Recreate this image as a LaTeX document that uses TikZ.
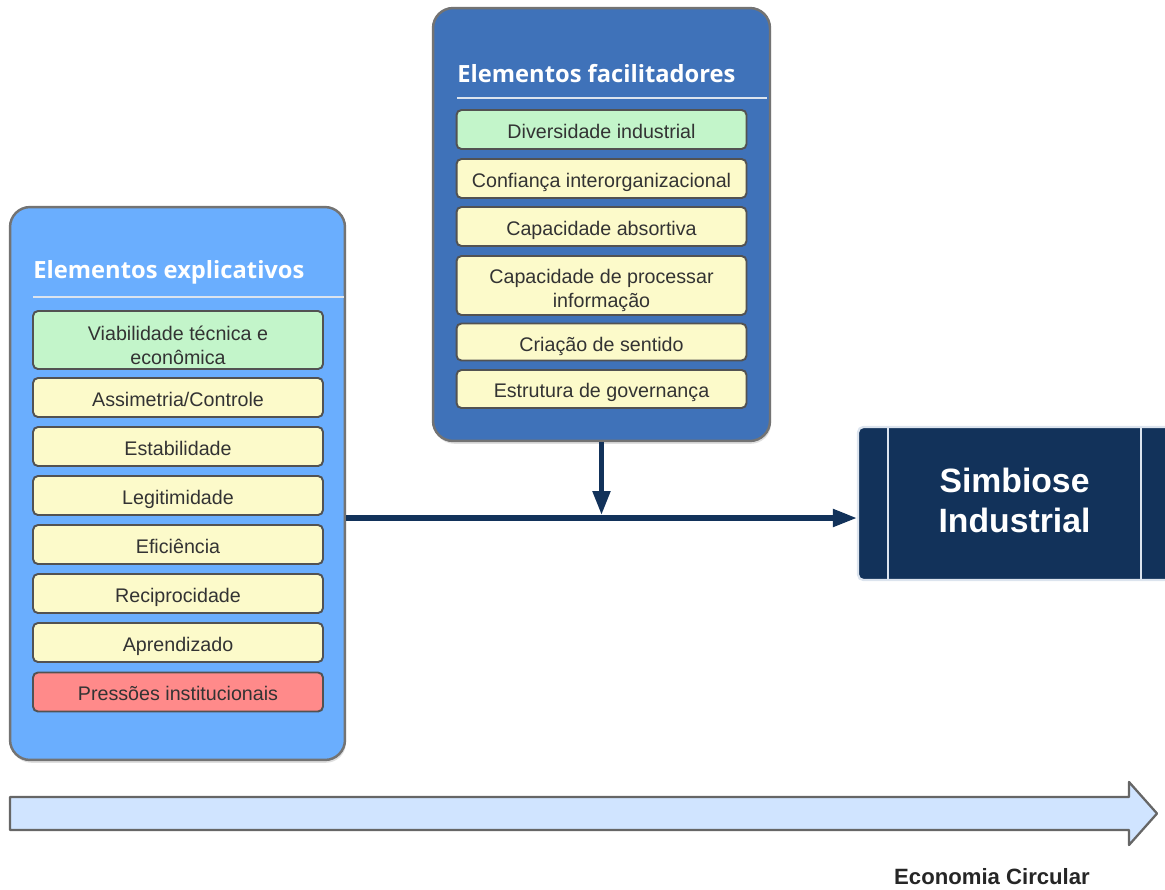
\documentclass[tikz,border=0pt]{standalone}
\usepackage{fontspec}
\setmainfont{Liberation Sans}
\newfontfamily\titlefont{Open Sans}
\usetikzlibrary{positioning}
\usetikzlibrary{calc}
\usetikzlibrary{arrows.meta}
\usetikzlibrary{shadows}

\definecolor{panelA}{HTML}{6AAEFE}
\definecolor{panelB}{HTML}{3F72B9}
\definecolor{itemY}{HTML}{FCFACA}
\definecolor{itemG}{HTML}{C3F5CA}
\definecolor{itemR}{HTML}{FF8A8A}
\definecolor{navy}{HTML}{12325A}
\definecolor{sepcol}{HTML}{DCE4EE}
\definecolor{arrowbg}{HTML}{D0E4FF}

\newcommand{\firstline}{\rule{0pt}{14pt}}

\begin{document}
\begin{tikzpicture}[x=0.02cm,y=-0.02cm,
  panel/.style={draw=black!55,line width=1.4pt,rounded corners=0.4cm,inner sep=0pt,
    drop shadow={opacity=0.25,shadow xshift=0.6pt,shadow yshift=-1.6pt}},
  item/.style={draw=black!68,line width=1.1pt,rounded corners=2.8pt,fill=itemY,text=black!80,
    font=\fontsize{11.2}{13.6}\selectfont,align=center,inner sep=0pt,
    minimum width=5.8cm,minimum height=0.78cm,text height=12.8pt,text depth=3pt},
  twoline/.style={text height=,text depth=},
  title/.style={anchor=west,text=white,inner sep=0pt,font=\titlefont\bfseries\fontsize{13.5}{16}\selectfont},
  sep/.style={draw=sepcol,line width=1.7pt},
  flow/.style={draw=navy,line width=2.9pt,-{Triangle[length=0.48cm,width=0.34cm]}}]
\useasboundingbox (0,0) rectangle (1165,889);

% panels
\node [panel,fill=panelA,minimum width=6.7cm,minimum height=11.06cm] (expl) at (177.5,483.5) {};
\node [panel,fill=panelB,minimum width=6.74cm,minimum height=8.66cm] (facil) at (601.5,224.5) {};

\node [title] (explT) at (33,272) {Elementos explicativos};
\draw [sep] (33,297) -- (344,297);
\node [title] (facilT) at (457,73.5) {Elementos facilitadores};
\draw [sep] (457,98) -- (767,98);

% explicativos
\node [item,twoline,fill=itemG,minimum height=1.16cm] (e1) at (178,340) {\firstline Viabilidade técnica e\\econômica};
\node [item] (e2) at (178,397.5) {Assimetria/Controle};
\node [item] (e3) at (178,446.5) {Estabilidade};
\node [item] (e4) at (178,495.5) {Legitimidade};
\node [item] (e5) at (178,544.5) {Eficiência};
\node [item] (e6) at (178,593.5) {Reciprocidade};
\node [item] (e7) at (178,642.5) {Aprendizado};
\node [item,fill=itemR] (e8) at (178,692) {Pressões institucionais};

% facilitadores
\node [item,fill=itemG] (f1) at (601.5,129.5) {Diversidade industrial};
\node [item] (f2) at (601.5,178.5) {Confiança interorganizacional};
\node [item] (f3) at (601.5,226.5) {Capacidade absortiva};
\node [item,twoline,minimum height=1.18cm] (f4) at (601.5,285.5) {\firstline Capacidade de processar\\informação};
\node [item,minimum height=0.74cm,text height=14pt] (f5) at (601.5,342) {Criação de sentido};
\node [item,minimum height=0.76cm] (f6) at (601.5,389) {Estrutura de governança};

% simbiose
\node [draw=sepcol,line width=1.3pt,fill=navy,rounded corners=3pt,minimum width=6.26cm,
  minimum height=3.06cm,text=white,align=center,
  font=\bfseries\fontsize{19.2}{22.7}\selectfont] (sb) at (1014.5,503.5) {Simbiose\\Industrial\rule[-3.4pt]{0pt}{0pt}};
\draw [sepcol,line width=1.3pt] ($(sb.north west)+(31,0)$) -- ($(sb.south west)+(31,0)$);
\draw [sepcol,line width=1.3pt] ($(sb.north east)+(-31,0)$) -- ($(sb.south east)+(-31,0)$);

% connectors
\coordinate (hl) at (expl.east |- 0,518);
\coordinate (jn) at (facil.south |- 0,515);
\draw [flow] (hl) -- (hl -| sb.west);
\draw [flow] (facil.south) -- (jn);

% economia circular
\draw [draw=black!60,line width=1.3pt,fill=arrowbg,line join=round]
  (10,797) -- (1129,797) -- (1129,782) -- (1157,813.5) -- (1129,845) -- (1129,830) -- (10,830) -- cycle;
\node [font=\bfseries\fontsize{12.6}{15}\selectfont,text=black!85] (ec) at (992,877) {Economia Circular};
\end{tikzpicture}
\end{document}
